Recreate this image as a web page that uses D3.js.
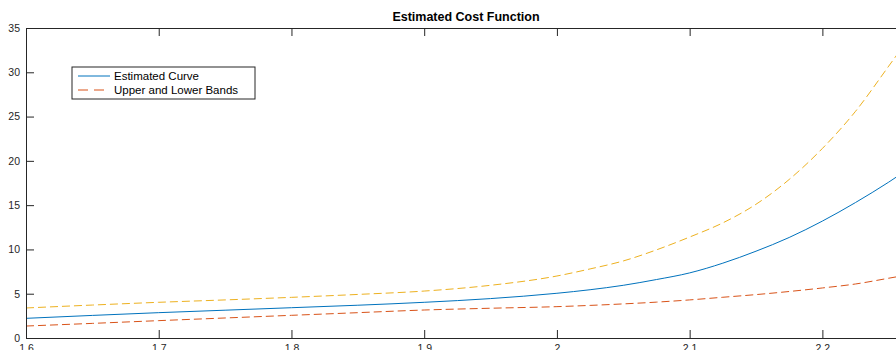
<!DOCTYPE html>
<html><head><meta charset="UTF-8">
<title>Estimated Cost Function</title>
<script src="https://d3js.org/d3.v7.min.js"></script>
<style>
  body { margin: 0; background: #fff; overflow: hidden; }
  text { font-family: "Liberation Sans", Arial, sans-serif; }
</style>
</head>
<body>
<svg id="chart" width="896" height="350"></svg>
<script>
// x values of the sampled curves
var xs = [1.60, 1.65, 1.70, 1.75, 1.80, 1.85, 1.90, 1.95, 2.00, 2.025, 2.05, 2.075,
          2.10, 2.125, 2.15, 2.175, 2.20, 2.225, 2.25, 2.263];
// estimated curve
var estimated = [2.22, 2.55, 2.86, 3.14, 3.42, 3.70, 4.03, 4.45, 5.05, 5.45, 5.95, 6.60,
                 7.35, 8.45, 9.80, 11.35, 13.2, 15.3, 17.6, 18.9];
// upper band
var upper = [3.39, 3.72, 4.03, 4.30, 4.59, 4.92, 5.30, 5.95, 7.0, 7.8, 8.7, 9.95,
             11.4, 13.0, 15.1, 17.9, 21.4, 25.6, 30.7, 33.4];
// lower band
var lower = [1.35, 1.65, 1.96, 2.26, 2.56, 2.86, 3.16, 3.36, 3.54, 3.68, 3.85, 4.05,
             4.3, 4.6, 4.9, 5.25, 5.65, 6.1, 6.75, 7.1];

var xTicks = [1.6, 1.7, 1.8, 1.9, 2.0, 2.1, 2.2];
var xTickLabels = ["1.6", "1.7", "1.8", "1.9", "2", "2.1", "2.2"];
var yTicks = [0, 5, 10, 15, 20, 25, 30, 35];
var yTickLabels = ["0", "5", "10", "15", "20", "25", "30", "35"];
var legendLabels = ["Estimated Curve", "Upper and Lower Bands"];

var blue = "#0072BD", orange = "#D95319", yellow = "#EDB120", axisCol = "#262626";

// plot box (right edge lies past the window, as in the reference)
var mLeft = 26, mTop = 28, mRight = 906, mBottom = 338;
var svg = d3.select("#chart");

var x = d3.scaleLinear().domain([1.6, 2.263]).range([mLeft, mRight]);
var y = d3.scaleLinear().domain([0, 35]).range([mBottom, mTop]);

svg.append("clipPath").attr("id", "clip")
  .append("rect").attr("x", mLeft).attr("y", mTop).attr("width", mRight - mLeft).attr("height", mBottom - mTop);

// title
svg.append("text").attr("x", (mLeft + mRight) / 2).attr("y", 21)
  .attr("text-anchor", "middle").attr("font-size", 12.5).attr("font-weight", "bold")
  .attr("fill", "#000").text("Estimated Cost Function");

// lines
var line = function(vals) {
  return d3.line().curve(d3.curveMonotoneX)
    .x(function(d, i) { return x(xs[i]); }).y(function(d) { return y(d); })(vals);
};
var g = svg.append("g").attr("clip-path", "url(#clip)");
g.append("path").attr("d", line(upper)).attr("fill", "none").attr("stroke", yellow)
  .attr("stroke-width", 1).attr("stroke-dasharray", "8,4");
g.append("path").attr("d", line(lower)).attr("fill", "none").attr("stroke", orange)
  .attr("stroke-width", 1).attr("stroke-dasharray", "8,4");
g.append("path").attr("d", line(estimated)).attr("fill", "none").attr("stroke", blue)
  .attr("stroke-width", 1);

// axes
var xAxis = d3.axisBottom(x).tickValues(xTicks).tickSize(-8).tickPadding(5)
  .tickFormat(function(d, i) { return xTickLabels[i]; });
var gx = svg.append("g").attr("transform", "translate(0," + mBottom + ")").call(xAxis);
var xTopAxis = d3.axisTop(x).tickValues(xTicks).tickSize(-8).tickFormat("");
var gxt = svg.append("g").attr("transform", "translate(0," + mTop + ")").call(xTopAxis);
var yAxis = d3.axisLeft(y).tickValues(yTicks).tickSize(-8).tickPadding(6)
  .tickFormat(function(d, i) { return yTickLabels[i]; });
var gy = svg.append("g").attr("transform", "translate(" + mLeft + ",0)").call(yAxis);

[gx, gxt, gy].forEach(function(a) {
  a.select(".domain").attr("stroke", axisCol).attr("stroke-width", 1);
  a.selectAll(".tick line").attr("stroke", axisCol);
  a.selectAll(".tick text").attr("fill", axisCol).attr("font-size", 10.5)
    .style("font-family", "'Liberation Sans', Arial, sans-serif");
});
gx.selectAll(".tick text").attr("dy", "0.9em");

// legend
var lg = svg.append("g").attr("transform", "translate(72,67)");
lg.append("rect").attr("width", 183).attr("height", 32).attr("fill", "#fff")
  .attr("stroke", axisCol).attr("stroke-width", 1);
lg.append("line").attr("x1", 6).attr("x2", 38).attr("y1", 9).attr("y2", 9)
  .attr("stroke", blue).attr("stroke-width", 1);
lg.append("line").attr("x1", 6).attr("x2", 38).attr("y1", 23).attr("y2", 23)
  .attr("stroke", orange).attr("stroke-width", 1).attr("stroke-dasharray", "10,6");
lg.selectAll("text.lab").data(legendLabels).enter().append("text")
  .attr("x", 42).attr("y", function(d, i) { return 13 + i * 14; })
  .attr("font-size", 11.5).attr("fill", "#000").text(function(d) { return d; });
</script>
</body></html>
